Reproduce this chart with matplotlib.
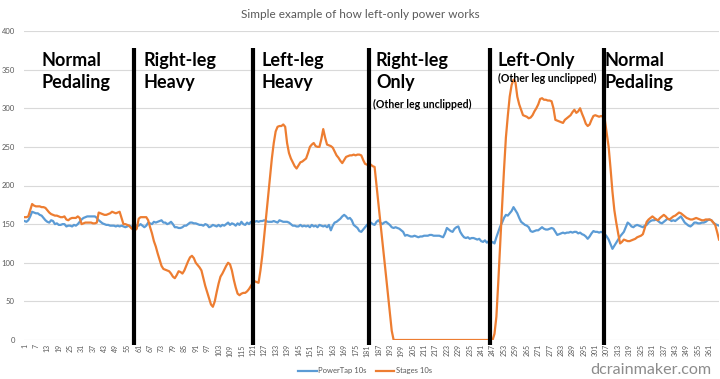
import numpy as np
import matplotlib.pyplot as plt

plt.rcParams["font.family"] = ["Lato", "DejaVu Sans"]

# PowerTap 10s (blue), one value per sample 1..366
powertap = [
    154, 153, 155, 160, 166, 165, 164, 164, 162, 161,
    158, 155, 153, 152, 155, 154, 150, 151, 149, 149,
    150, 150, 147, 148, 148, 147, 149, 148, 150, 153,
    156, 158, 159, 160, 160, 160, 160, 160, 158, 155,
    153, 151, 150, 149, 149, 148, 148, 148, 147, 148,
    147, 148, 147, 146, 147, 148, 147, 146, 149, 148,
    148, 150, 148, 146, 148, 152, 151, 150, 153, 152,
    153, 154, 155, 152, 152, 150, 151, 153, 150, 146,
    146, 145, 145, 146, 148, 148, 150, 152, 152, 151,
    151, 150, 149, 149, 148, 150, 149, 146, 147, 149,
    148, 147, 149, 147, 149, 148, 150, 152, 149, 151,
    150, 148, 151, 149, 153, 150, 149, 152, 150, 153,
    153, 153, 154, 153, 154, 154, 155, 154, 153, 153,
    153, 154, 153, 152, 155, 154, 153, 153, 153, 152,
    150, 148, 148, 147, 147, 149, 147, 148, 147, 148,
    146, 149, 147, 148, 146, 149, 148, 147, 148, 146,
    149, 142, 148, 152, 153, 155, 157, 160, 162, 160,
    157, 158, 155, 149, 147, 145, 141, 140, 143, 146,
    149, 151, 152, 150, 149, 153, 155, 152, 150, 152,
    153, 151, 149, 146, 145, 146, 145, 144, 142, 140,
    135, 136, 135, 134, 134, 135, 134, 133, 134, 134,
    135, 135, 135, 136, 136, 135, 135, 135, 135, 134,
    133, 138, 145, 143, 141, 140, 144, 146, 147, 140,
    136, 133, 132, 133, 131, 132, 132, 131, 130, 131,
    128, 127, 129, 126, 128, 125, 127, 125, 133, 140,
    147, 152, 158, 162, 161, 164, 167, 172, 168, 164,
    158, 153, 151, 149, 148, 146, 141, 140, 141, 142,
    142, 144, 146, 144, 143, 143, 144, 145, 144, 140,
    136, 137, 138, 139, 138, 139, 139, 140, 139, 140,
    140, 138, 139, 137, 136, 134, 131, 134, 138, 141,
    140, 140, 139, 140, 139, 137, 134, 130, 124, 118,
    122, 126, 130, 134, 137, 140, 146, 152, 150, 147,
    146, 148, 149, 148, 147, 146, 148, 149, 152, 154,
    155, 155, 156, 154, 152, 151, 153, 155, 157, 156,
    154, 155, 154, 156, 158, 160, 156, 152, 150, 148,
    147, 149, 152, 152, 151, 151, 152, 152, 153, 155,
    156, 155, 152, 150, 149, 148,
]

# Stages 10s (orange)
stages = [
    159, 159, 160, 168, 176, 174, 173, 173, 173, 172,
    172, 171, 168, 165, 163, 162, 161, 161, 160, 159,
    159, 160, 156, 155, 157, 158, 158, 158, 160, 158,
    150, 151, 152, 152, 152, 152, 151, 151, 152, 165,
    164, 163, 162, 162, 163, 164, 166, 165, 164, 165,
    166, 158, 150, 150, 149, 148, 145, 143, 142, 144,
    157, 159, 159, 159, 159, 155, 146, 138, 128, 121,
    112, 104, 96, 92, 91, 90, 89, 86, 82, 80,
    84, 89, 88, 86, 90, 96, 102, 107, 109, 106,
    100, 97, 94, 90, 80, 70, 62, 54, 46, 43,
    50, 62, 73, 82, 86, 91, 96, 100, 98, 90,
    78, 68, 60, 58, 60, 61, 61, 63, 66, 70,
    74, 76, 75, 74, 90, 110, 135, 160, 186, 210,
    235, 255, 270, 276, 277, 277, 279, 276, 255, 242,
    235, 230, 225, 222, 226, 230, 231, 233, 235, 242,
    250, 253, 255, 251, 250, 250, 260, 273, 262, 253,
    252, 251, 249, 244, 239, 236, 232, 229, 233, 237,
    238, 239, 239, 240, 239, 240, 240, 239, 233, 228,
    227, 226, 227, 225, 224, 200, 177, 153, 130, 106,
    83, 59, 36, 12, 0, 0, 0, 0, 0, 0,
    0, 0, 0, 0, 0, 0, 0, 0, 0, 0,
    0, 0, 0, 0, 0, 0, 0, 0, 0, 0,
    0, 0, 0, 0, 0, 0, 0, 0, 0, 0,
    0, 0, 0, 0, 0, 0, 0, 0, 0, 0,
    0, 0, 0, 0, 0, 0, 0, 8, 30, 75,
    125, 173, 220, 262, 290, 315, 330, 337, 334, 315,
    305, 298, 291, 290, 289, 287, 288, 291, 296, 300,
    305, 312, 313, 311, 311, 310, 310, 309, 300, 285,
    284, 283, 282, 281, 285, 287, 289, 291, 295, 298,
    294, 296, 300, 293, 287, 280, 277, 279, 285, 290,
    291, 290, 289, 290, 289, 285, 268, 250, 222, 192,
    168, 152, 138, 125, 127, 130, 129, 128, 128, 129,
    130, 131, 133, 134, 135, 137, 145, 153, 156, 158,
    160, 158, 156, 155, 158, 160, 162, 160, 157, 156,
    158, 160, 161, 163, 165, 164, 162, 160, 158, 157,
    156, 156, 157, 158, 157, 156, 155, 155, 156, 156,
    156, 155, 152, 149, 140, 130,
]

samples = np.arange(1, len(powertap) + 1)

# phase boundaries (sample index) and labels
boundaries = [58.5, 121, 182, 245.5, 305.5]
phases = ["Normal\nPedaling", "Right-leg\nHeavy", "Left-leg\nHeavy",
          "Right-leg\nOnly", "Left-Only", "Normal\nPedaling"]
phase_x = [10, 63.3, 125.3, 185.7, 249.7, 305.6]

blue = "#5B9BD5"
orange = "#ED7D31"
grey = "#595959"

fig = plt.figure(figsize=(7.2, 3.79), dpi=100)
ax = fig.add_axes([24.5 / 720, 39 / 379, 694.5 / 720, 309 / 379])

ax.plot(samples, powertap, color=blue, lw=1.6, label="PowerTap 10s", zorder=3)
ax.plot(samples, stages, color=orange, lw=1.6, label="Stages 10s", zorder=3)

ax.vlines(boundaries, -6, 378, color="black", lw=3, zorder=4, clip_on=False)

for x, txt in zip(phase_x, phases):
    ax.text(x, 373, txt, fontsize=13, fontweight="bold", va="top", ha="left",
            linespacing=1.4, zorder=5)
ax.text(184, 305, "(Other leg unclipped)", fontsize=7.6, fontweight="bold",
        va="center", ha="left", zorder=5)
ax.text(249.8, 338, "(Other leg unclipped)", fontsize=7.6, fontweight="bold",
        va="center", ha="left", zorder=5)

ax.set_xlim(1, 366)
ax.set_ylim(0, 400)
ax.set_yticks(range(0, 401, 50))
ax.set_xticks(samples[::6])
ax.set_xticklabels([str(s) for s in samples[::6]], rotation=90)
ax.tick_params(axis="both", length=0, colors=grey)
ax.tick_params(axis="y", labelsize=5.5, pad=7)
ax.tick_params(axis="x", labelsize=5, pad=3)
ax.grid(axis="y", color="#D9D9D9", lw=0.8, zorder=0)
for s in ax.spines.values():
    s.set_visible(False)

fig.suptitle("Simple example of how left-only power works", y=0.975,
             fontsize=8.5, color=grey)

fig.legend(loc="center", bbox_to_anchor=(365 / 720, 8 / 379), ncol=2,
           frameon=False, fontsize=5.5, labelcolor=grey, handlelength=2.4,
           columnspacing=1.2, handletextpad=0.2)

fig.text(711 / 720, 5 / 379, "dcrainmaker.com", fontsize=11.6, color="#8C8C8C",
         ha="right", va="baseline")

fig.savefig("out.png", dpi=100)
